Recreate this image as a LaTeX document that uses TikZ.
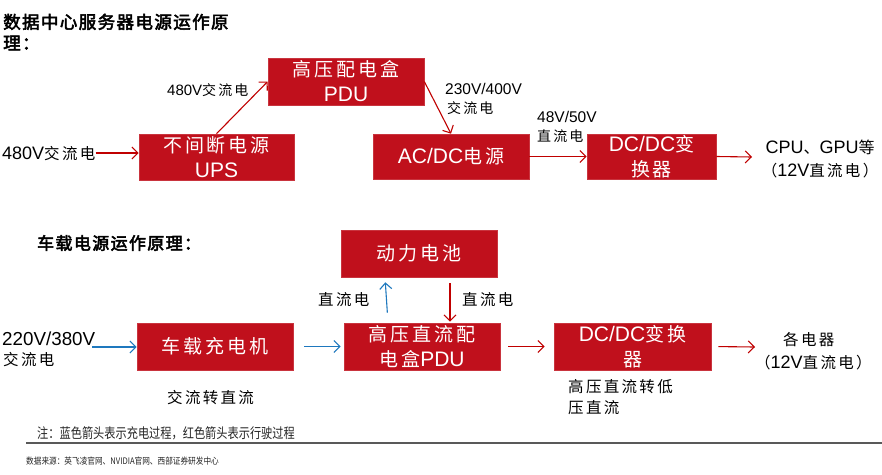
\documentclass[tikz,border=0pt]{standalone}
\usepackage{fontspec}
\setmainfont{Liberation Sans}
\newfontfamily\cjk{Noto Sans CJK SC}[LetterSpace=15]
\newfontfamily\cjkt{Noto Sans CJK SC}[LetterSpace=8,FakeBold=3]
\newfontfamily\cjkn{Noto Sans CJK SC}
\usetikzlibrary{arrows.meta}
\definecolor{boxred}{HTML}{C0101C}
\definecolor{arrred}{HTML}{C00000}
\definecolor{arrblue}{HTML}{1E78BE}
\newcommand\zbox[1]{{\fontsize{19}{25}\selectfont\cjk #1}}
\newcommand\zs[2]{{\fontsize{#1}{25}\selectfont\cjk #2}}
\tikzset{
  box/.style={fill=boxred, draw=boxred!85!white, line width=0.6pt, text=white,
    align=center, inner sep=0pt, font=\fontsize{21}{25}\selectfont},
  redarr/.style={draw=arrred, line width=1.1pt, -{Straight Barb[length=6pt,width=12pt]}},
  bluearr/.style={draw=arrblue, line width=1.1pt, -{Straight Barb[length=6pt,width=12pt]}},
  lbl/.style={inner sep=0pt, anchor=base west},
  lblc/.style={inner sep=0pt, anchor=base},
}
\begin{document}
\begin{tikzpicture}[x=1pt,y=-1pt]
\fill[white] (0,0) rectangle (882,474);
\useasboundingbox (0,0) rectangle (882,474);

% titles
\node[lbl, font=\fontsize{17.5}{20}\selectfont] (t1a) at (3,28.5) {\cjkt 数据中心服务器电源运作原};
\node[lbl, font=\fontsize{17.5}{20}\selectfont] (t1b) at (3,49.5) {\cjkt 理：};
\node[lbl, font=\fontsize{17}{20}\selectfont] (t2) at (37,249.5) {\cjkt 车载电源运作原理：};

% section 1 boxes
\node[box, minimum width=155pt, minimum height=46pt] (ups) at (216.5,157) {\zbox{不间断电源}\\UPS};
\node[box, minimum width=156pt, minimum height=47pt] (pdu) at (346,81.5) {\zbox{高压配电盒}\\PDU};
\node[box, minimum width=156pt, minimum height=45pt] (acdc) at (451,156.5) {AC/DC\zbox{电源}};
\node[box, minimum width=129pt, minimum height=45pt] (dcdc) at (651.5,156.5) {DC/DC\zbox{变}\\\zbox{换器}};

% section 1 labels
\node[lbl, font=\fontsize{18}{22}\selectfont] (in1) at (2,159.5) {480V\zs{15.5}{交流电}};
\node[lbl, font=\fontsize{15}{19}\selectfont] (l480) at (167,95.5) {480V\zs{14}{交流电}};
\node[lbl, font=\fontsize{15.5}{19}\selectfont] (l230) at (445,94.5) {230V/400V};
\node[lbl] (l230b) at (447,113.5) {\zs{14}{交流电}};
\node[lbl, font=\fontsize{15.5}{19}\selectfont] (l48) at (537,122.5) {48V/50V};
\node[lbl] (l48b) at (537,141.5) {\zs{14}{直流电}};
\node[lblc, font=\fontsize{18}{22}\selectfont] (cpu) at (820,153.5) {CPU\zs{16}{、}GPU\zs{16}{等}};
\node[lblc, font=\fontsize{18}{22}\selectfont] (cpub) at (820,176.5) {\zs{15.5}{（}12V\zs{15.5}{直流电）}};
\coordinate (out1) at (752,157);

% section 1 connectors
\draw[redarr] (in1.east |- 0,153) -- (ups.west |- 0,153);
\draw[redarr] (ups.north) -- (pdu.west);
\draw[redarr] (pdu.east) -- (acdc.north);
\draw[redarr] (acdc.east) -- (dcdc.west);
\draw[redarr] (dcdc.east) -- (out1);

% section 2 boxes
\node[box, minimum width=156pt, minimum height=47pt] (bat) at (419,253.5) {\zbox{动力电池}};
\node[box, minimum width=156pt, minimum height=47pt] (chg) at (215,346.5) {\zbox{车载充电机}};
\node[box, minimum width=156pt, minimum height=47pt] (pdu2) at (422,346.5) {\zbox{高压直流配}\\\zbox{电盒}PDU};
\node[box, minimum width=157pt, minimum height=47pt] (dcdc2) at (632.5,346.5) {DC/DC\zbox{变换}\\\zbox{器}};

% section 2 labels
\node[lbl, font=\fontsize{18.8}{22}\selectfont] (in2) at (2,345) {220V/380V};
\node[lbl] (in2b) at (3,365.5) {\zs{15.5}{交流电}};
\node[lbl] (dcl) at (318,305.5) {\zs{15.5}{直流电}};
\node[lbl] (dcr) at (462,305.5) {\zs{15.5}{直流电}};
\node[lbl] (ac2dc) at (167,403.5) {\zs{15.5}{交流转直流}};
\node[lbl] (hv1) at (568,392.5) {\zs{15.5}{高压直流转低}};
\node[lbl] (hv2) at (568,413.5) {\zs{15.5}{压直流}};
\node[lbl] (dev) at (783,345.5) {\zs{15.5}{各电器}};
\node[lbl, font=\fontsize{18}{22}\selectfont] (devb) at (755,368.5) {\zs{15.5}{（}12V\zs{15.5}{直流电）}};
\coordinate (in2a) at (92,347);
\coordinate (out2) at (755,347);

% section 2 connectors
\draw[bluearr] (in2a) -- (chg.west |- in2a);
\draw[bluearr, shorten <=11pt, shorten >=3pt] (chg.east) -- (pdu2.west);
\draw[bluearr, shorten <=10pt, shorten >=5pt] ([xshift=-34pt]pdu2.north) -- ([xshift=-34pt]bat.south);
\draw[redarr, shorten <=6pt, shorten >=1pt] ([xshift=31pt]bat.south) -- ([xshift=28pt]pdu2.north);
\draw[redarr, shorten <=8pt, shorten >=9pt] (pdu2.east) -- (dcdc2.west);
\draw[redarr, shorten <=7pt] (dcdc2.east) -- (out2);

% notes
\node[lbl, text=black!85] (note) at (37,438) {\scalebox{0.8}[1]{\fontsize{14}{16}\selectfont\cjkn 注：蓝色箭头表示充电过程，红色箭头表示行驶过程}};
\draw[black!65, line width=1.6pt] (26,443) -- (882,443);
\node[lbl, text=black!85] (src) at (26,464.5) {\scalebox{0.85}[1]{\fontsize{9}{10}\selectfont\cjkn 数据来源：英飞凌官网、NVIDIA官网、西部证券研发中心}};
\end{tikzpicture}
\end{document}
